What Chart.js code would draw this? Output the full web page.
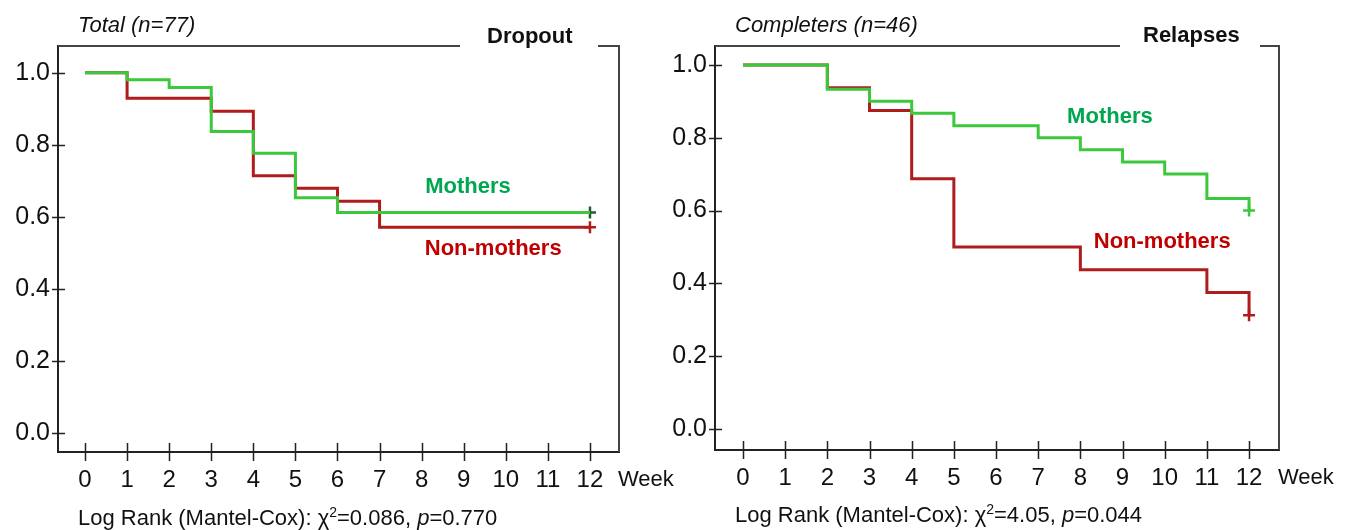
<!DOCTYPE html>
<html>
<head>
<meta charset="utf-8">
<script src="https://cdn.jsdelivr.net/npm/chart.js@4.4.1/dist/chart.umd.min.js"></script>
<style>
  body { margin: 0; width: 1350px; height: 530px; background: #fff; position: relative; overflow: hidden;
         font-family: "Liberation Sans", Arial, sans-serif; color: #111; }
  canvas { position: absolute; top: 0; }
  .title { position: absolute; font-style: italic; font-size: 22px; white-space: nowrap; }
  .tag { position: absolute; font-weight: bold; font-size: 22px; white-space: nowrap; }
  .note { position: absolute; font-size: 22px; white-space: nowrap; }
</style>
</head>
<body>
<canvas id="dropout" width="680" height="530" style="left:0"></canvas>
<canvas id="relapse" width="690" height="530" style="left:660px"></canvas>

<div class="title" style="left:78px; top:12px">Total (n=77)</div>
<div class="tag" style="left:487px; top:23px">Dropout</div>
<div class="title" style="left:735px; top:12px">Completers (n=46)</div>
<div class="tag" style="left:1143px; top:22px">Relapses</div>
<div class="note" style="left:78px; top:504px">Log Rank (Mantel-Cox): χ<sup style="font-size:14px">2</sup>=0.086, <i>p</i>=0.770</div>
<div class="note" style="left:735px; top:501px">Log Rank (Mantel-Cox): χ<sup style="font-size:14px">2</sup>=4.05, <i>p</i>=0.044</div>

<script>
// ticks
const weekTicks = [0, 1, 2, 3, 4, 5, 6, 7, 8, 9, 10, 11, 12];
const survTicks = [0, 0.2, 0.4, 0.6, 0.8, 1.0];

// dropout, total n=77 (step times in weeks, survival after each step)
const dropMothersWeeks = [0, 1, 2, 3, 4, 5, 6, 12];
const dropMothersSurv  = [1, 0.98, 0.959, 0.837, 0.776, 0.653, 0.612, 0.612];
const dropNonWeeks = [0, 1, 3, 4, 5, 6, 7, 12];
const dropNonSurv  = [1, 0.929, 0.893, 0.714, 0.679, 0.643, 0.571, 0.571];

// relapses, completers n=46
const relMothersWeeks = [0, 2, 3, 4, 5, 7, 8, 9, 10, 11, 12];
const relMothersSurv  = [1, 0.933, 0.9, 0.867, 0.833, 0.8, 0.767, 0.733, 0.7, 0.633, 0.6];
const relNonWeeks = [0, 2, 3, 4, 5, 8, 11, 12];
const relNonSurv  = [1, 0.9375, 0.875, 0.6875, 0.5, 0.4375, 0.375, 0.3125];

const GREEN = '#3cc83c';
const RED = '#b01c1c';

function toPoints (xs, ys) {
    return xs.map((x, i) => ({ x: x, y: ys[i] }));
}

function lastPoint (xs, ys) {
    return [{ x: xs[xs.length - 1], y: ys[ys.length - 1] }];
}

const framePlugin = {
    id: 'frame',
    afterDraw (chart, args, opts) {
        const { ctx, chartArea: a, scales: { x, y } } = chart;
        ctx.save();
        ctx.strokeStyle = '#444';
        ctx.lineWidth = 2;
        ctx.beginPath();
        ctx.moveTo(a.left, a.top);
        ctx.lineTo(opts.gap[0], a.top);
        ctx.moveTo(opts.gap[1], a.top);
        ctx.lineTo(a.right, a.top);
        ctx.lineTo(a.right, a.bottom);
        ctx.stroke();

        // tick marks crossing the axes
        ctx.strokeStyle = '#222';
        ctx.lineWidth = 1.5;
        ctx.beginPath();
        y.ticks.forEach(t => {
            const py = Math.round(y.getPixelForValue(t.value)) + 0.5;
            ctx.moveTo(a.left - 6, py);
            ctx.lineTo(a.left + 7, py);
        });
        x.ticks.forEach(t => {
            const px = Math.round(x.getPixelForValue(t.value)) + 0.5;
            ctx.moveTo(px, a.bottom - 9);
            ctx.lineTo(px, a.bottom + 9);
        });
        ctx.stroke();

        ctx.fillStyle = '#111';
        ctx.font = '22px "Liberation Sans"';
        ctx.textBaseline = 'middle';
        ctx.textAlign = 'left';
        ctx.fillText('Week', a.right - 1, a.bottom + 28);

        ctx.font = 'bold 22px "Liberation Sans"';
        ctx.textAlign = 'center';
        opts.labels.forEach(l => {
            ctx.fillStyle = l.color;
            ctx.fillText(l.text, x.getPixelForValue(l.x), y.getPixelForValue(l.y));
        });
        ctx.restore();
    }
};

function drawKM (canvasId, series, view) {
    const datasets = [];
    series.forEach(s => {
        datasets.push({
            data: toPoints(s.weeks, s.surv),
            borderColor: s.color,
            borderWidth: 3,
            stepped: 'before',
            pointRadius: 0,
            fill: false
        });
        datasets.push({
            data: lastPoint(s.weeks, s.surv),
            showLine: false,
            pointStyle: 'cross',
            pointRadius: 6,
            borderWidth: 2.5,
            borderColor: s.markColor
        });
    });

    const config = {
        type: 'line',
        data: { datasets },
        plugins: [framePlugin],
        options: {
            responsive: false,
            animation: false,
            layout: { padding: { top: 46, right: view.padRight, left: 0, bottom: 0 } },
            plugins: {
                legend: { display: false },
                tooltip: { enabled: false },
                frame: { gap: view.gap, labels: view.labels }
            },
            scales: {
                x: {
                    type: 'linear',
                    min: view.xMin,
                    max: view.xMax,
                    afterBuildTicks: scale => { scale.ticks = weekTicks.map(v => ({ value: v })); },
                    afterFit: scale => { scale.height = view.xHeight; },
                    grid: { display: false, drawTicks: false },
                    border: { color: '#222', width: 2 },
                    ticks: { color: '#111', padding: 14, font: { family: 'Liberation Sans', size: 24 },
                              maxRotation: 0, autoSkip: false }
                },
                y: {
                    min: view.yMin,
                    max: view.yMax,
                    afterBuildTicks: scale => { scale.ticks = survTicks.map(v => ({ value: v })); },
                    afterFit: scale => { scale.width = view.yWidth; },
                    grid: { display: false, drawTicks: false },
                    border: { color: '#222', width: 2 },
                    ticks: { color: '#111', padding: 8, font: { family: 'Liberation Sans', size: 25 },
                             callback: v => Number(v).toFixed(1) }
                }
            }
        }
    };

    return new Chart(document.getElementById(canvasId), config);
}

drawKM('dropout', [
    { weeks: dropMothersWeeks, surv: dropMothersSurv, color: GREEN, markColor: '#1d5e2c' },
    { weeks: dropNonWeeks, surv: dropNonSurv, color: RED, markColor: RED }
], {
    xMin: -0.642, xMax: 12.69, yMin: -0.053, yMax: 1.074,
    yWidth: 58, xHeight: 78, padRight: 61,
    gap: [460, 598],
    labels: [
        { text: 'Mothers', x: 9.1, y: 0.683, color: '#00a650' },
        { text: 'Non-mothers', x: 9.7, y: 0.51, color: '#c00000' }
    ]
});

drawKM('relapse', [
    { weeks: relMothersWeeks, surv: relMothersSurv, color: GREEN, markColor: GREEN },
    { weeks: relNonWeeks, surv: relNonSurv, color: RED, markColor: RED }
], {
    xMin: -0.664, xMax: 12.71, yMin: -0.058, yMax: 1.052,
    yWidth: 55, xHeight: 80, padRight: 71,
    gap: [460, 600],
    labels: [
        { text: 'Mothers', x: 8.7, y: 0.857, color: '#00a650' },
        { text: 'Non-mothers', x: 9.94, y: 0.514, color: '#c00000' }
    ]
});
</script>
</body>
</html>
